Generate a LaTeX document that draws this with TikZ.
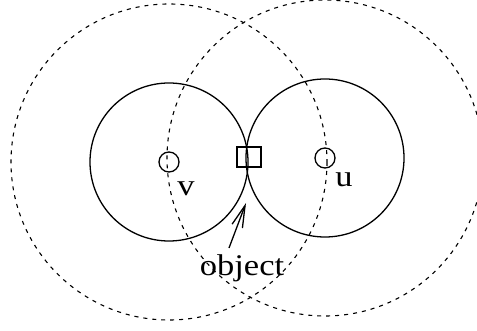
\documentclass[tikz,border=0pt]{standalone}
\usepackage{fontspec}
\setmainfont{Liberation Serif}
\usetikzlibrary{arrows.meta}
\begin{document}
\begin{tikzpicture}[x=1pt,y=-1pt,
  solidring/.style={draw=black, line width=1.3pt},
  dashring/.style={draw=black, line width=1.1pt, dash pattern=on 4pt off 5pt},
  site/.style={circle, draw=black, line width=1.3pt, minimum size=20pt, inner sep=0pt},
  objbox/.style={rectangle, draw=black, line width=1.3pt, minimum width=24pt, minimum height=20pt, inner sep=0pt},
  lbl/.style={font=\fontsize{30}{30}\selectfont, inner sep=0pt, xscale=1.15}]
\useasboundingbox (0,0) rectangle (477,331);
\coordinate (cv) at (169,162);
\coordinate (cu) at (325,158);
% dashed range circles
\draw[dashring] (cv) circle[radius=158];
\draw[dashring] (cu) circle[radius=158];
% solid circles
\draw[solidring] (cv) circle[radius=79];
\draw[solidring] (cu) circle[radius=79];
% nodes
\node[site] (v) at (cv) {};
\node[site] (u) at (cu) {};
\node[objbox] (box) at (249,157) {};
\node[lbl, anchor=base] (vl) at (186,196) {v};
\node[lbl, anchor=base] (ul) at (344,187) {u};
\node[lbl, anchor=base] (obj) at (242,276) {object};
\coordinate (tip) at (246,203);
\draw[line width=1.3pt, -{Straight Barb[length=22pt,width=11pt,line width=1.3pt]}] (229,248) -- (tip);
\end{tikzpicture}
\end{document}
